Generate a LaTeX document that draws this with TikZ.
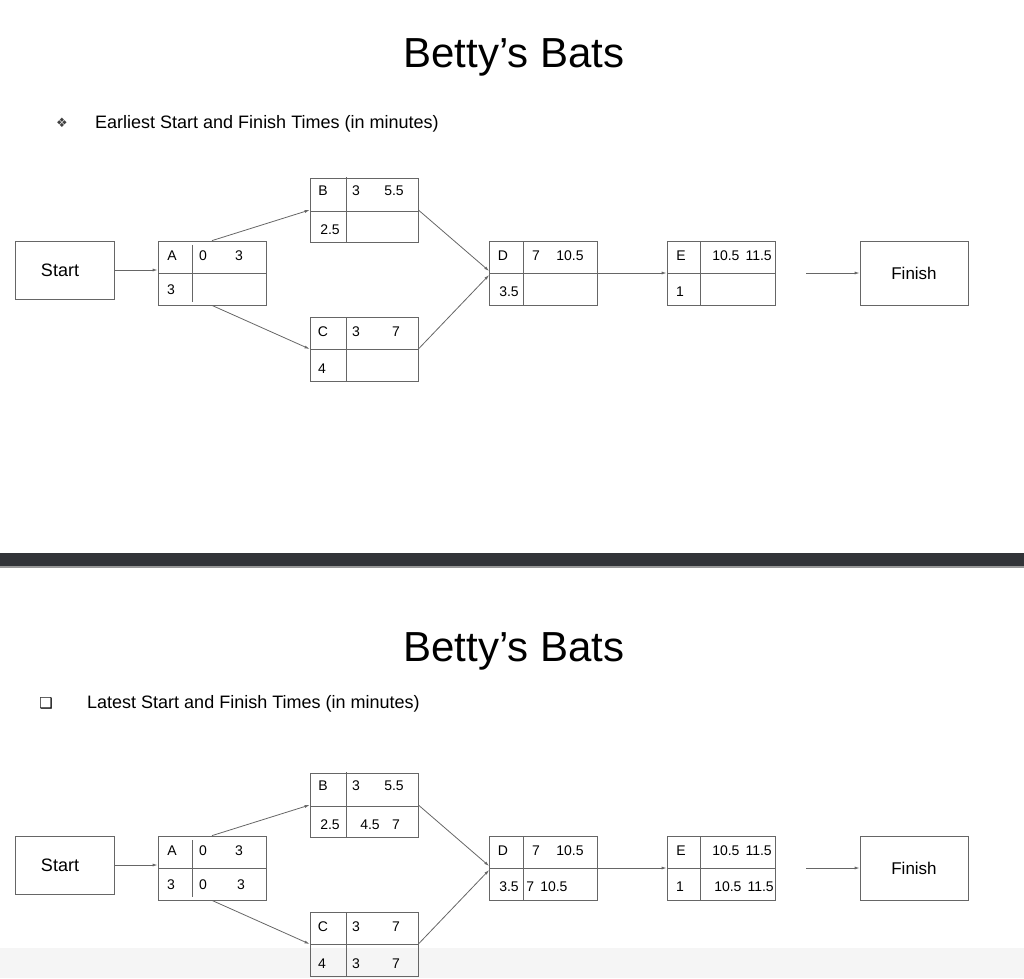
\documentclass[tikz,border=0pt]{standalone}
\usepackage{fontspec}
\setmainfont{Liberation Sans}
\newfontfamily\djv{DejaVu Sans}
\usetikzlibrary{arrows.meta}
\begin{document}
\begin{tikzpicture}[x=1pt,y=-1pt,
  box/.style={draw=black!60,line width=0.8pt,minimum width=108pt,minimum height=64pt,inner sep=0pt},
  sbox/.style={draw=black!60,line width=0.8pt,minimum width=99pt,minimum height=58pt,inner sep=0pt,font=\fontsize{18}{22}\selectfont},
  div/.style={draw=black!60,line width=0.8pt},
  arr/.style={draw=black!60,line width=0.8pt,-{Latex[length=5pt,width=3pt]}},
  t/.style={font=\fontsize{14}{16}\selectfont,inner sep=0pt},
  title/.style={font=\fontsize{42}{46}\selectfont},
  head/.style={font=\fontsize{18}{20}\selectfont,anchor=west,inner sep=0pt}]
\useasboundingbox (0,0) rectangle (1024,978);
\fill[black!4] (0,948) rectangle (1024,978);
\fill[fill={rgb,255:red,50;green,52;blue,56}] (0,553) rectangle (1024,566);
\fill[black!40] (0,566) rectangle (1024,567.5);
\node[title] (T1) at (514,57) {Betty’s Bats};
\node[title] (T2) at (514,651) {Betty’s Bats};
\node[font=\djv\fontsize{13}{16}\selectfont,text=black!75] (b1) at (62,123) {❖};
\node[head] (H1) at (95,124) {Earliest Start and Finish Times (in minutes)};
\node[font=\djv\fontsize{15}{16}\selectfont] (b2) at (46,703) {❑};
\node[head] (H2) at (87,704) {Latest Start and Finish Times (in minutes)};
\foreach \s/\o in {a/0,b/595}{
  \begin{scope}[yshift=-\o pt]
  \node[sbox] (S\s) at (64.5,270) {\hspace*{-9pt}Start};
  \node[box] (A\s) at (212,273) {};
  \node[box] (B\s) at (364,210) {};
  \node[box] (C\s) at (364,349) {};
  \node[box] (D\s) at (543.5,273) {};
  \node[box] (E\s) at (721,273) {};
  \node[box,font=\fontsize{17}{20}\selectfont] (F\s) at (914,273) {Finish};
  \draw[div] (158,273)--(266,273) (192,245)--(192,302);
  \draw[div] (310,211)--(418,211) (346,177)--(346,242);
  \draw[div] (310,349)--(418,349) (346,317)--(346,381);
  \draw[div] (489.5,273)--(597.5,273) (523,241)--(523,305);
  \draw[div] (667,273)--(775,273) (700,241)--(700,305);
  \coordinate (g\s) at (806,273);
  \draw[arr] (S\s.east) -- (S\s.east -| A\s.west);
  \draw[arr] (A\s.north) -- (B\s.west);
  \draw[arr] (A\s.south) -- (C\s.west);
  \draw[arr] (B\s.east) -- ([yshift=2pt]D\s.west);
  \draw[arr] (C\s.east) -- ([yshift=-2pt]D\s.west);
  \draw[arr] (D\s.east) -- (E\s.west);
  \draw[arr] (g\s) -- (F\s.west);
  \node[t] at (172,256) {A}; \node[t] at (203,256) {0}; \node[t] at (239,256) {3};
  \node[t] at (171,290) {3};
  \node[t] at (323,191) {B}; \node[t] at (356,191) {3}; \node[t] at (394,191) {5.5};
  \node[t] at (330,230) {2.5};
  \node[t] at (323,332) {C}; \node[t] at (356,332) {3}; \node[t] at (396,332) {7};
  \node[t] at (322,369) {4};
  \node[t] at (503,256) {D}; \node[t] at (536,256) {7}; \node[t] at (570,256) {10.5};
  \node[t] at (509,292) {3.5};
  \node[t] at (681,256) {E}; \node[t] at (742,256) {10.5\hspace{6pt}11.5};
  \node[t] at (680,292) {1};
  \end{scope}}
\begin{scope}[yshift=-595pt]
  \node[t] at (203,290) {0}; \node[t] at (241,290) {3};
  \node[t] at (370,230) {4.5}; \node[t] at (396,230) {7};
  \node[t] at (356,369) {3}; \node[t] at (396,369) {7};
  \node[t] at (547,292) {7\hspace{6pt}10.5};
  \node[t] at (744,292) {10.5\hspace{6pt}11.5};
\end{scope}
\end{tikzpicture}
\end{document}
